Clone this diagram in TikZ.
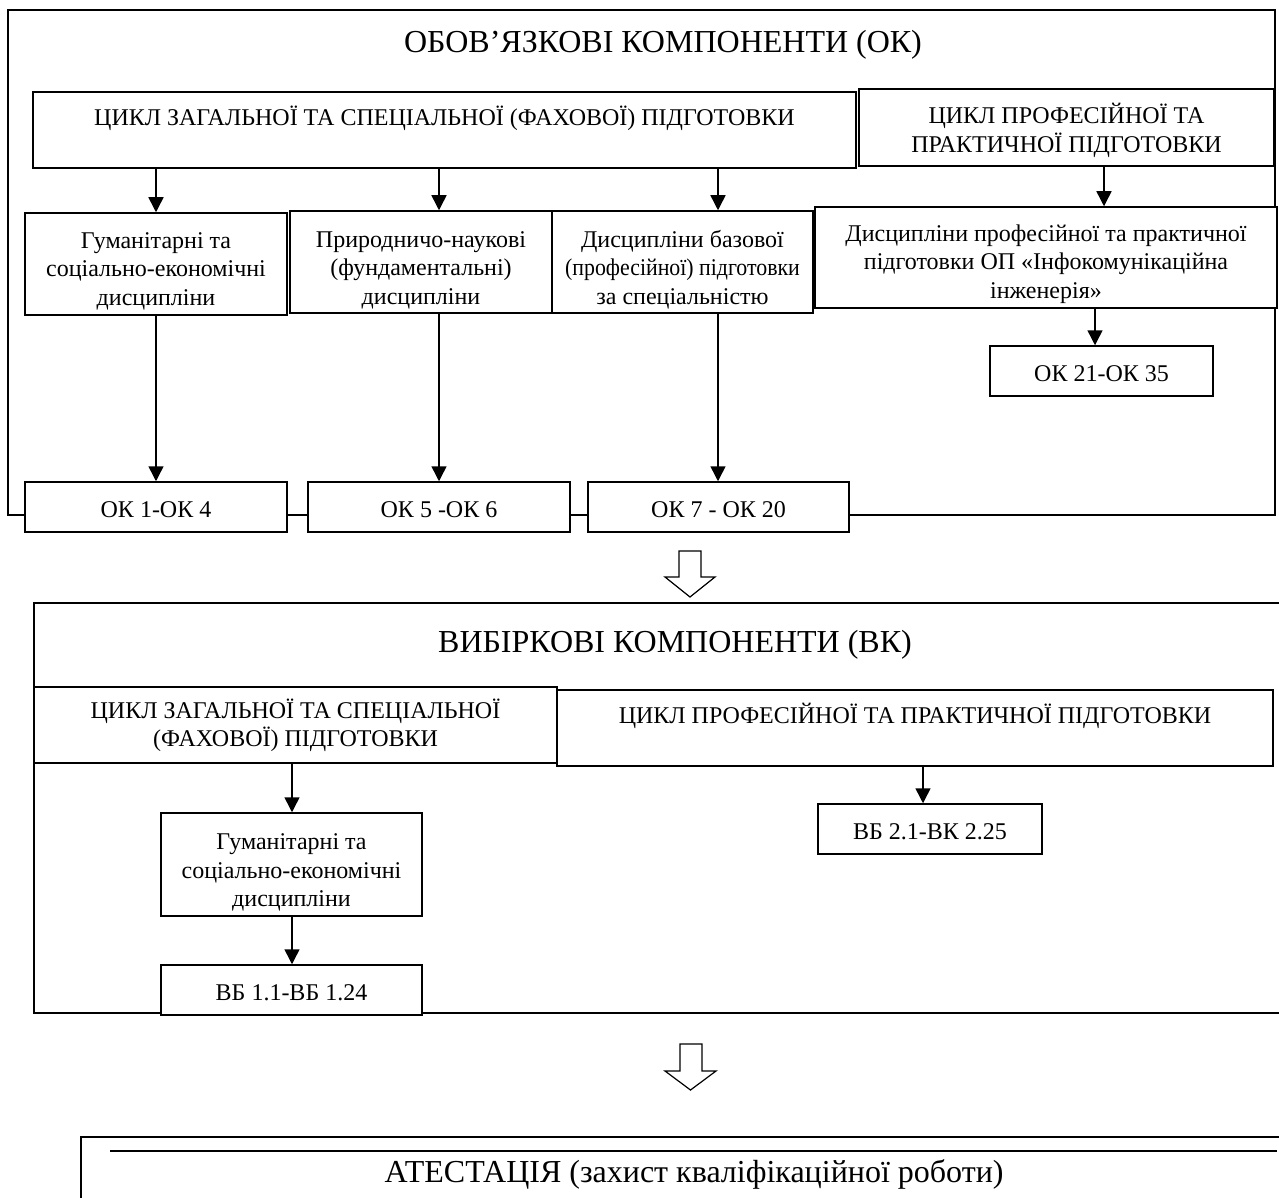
\documentclass[tikz,border=0pt]{standalone}
\usepackage{fontspec}
\usepackage{graphicx}
\setmainfont{Liberation Serif}
\usetikzlibrary{arrows.meta}
\newcommand{\mybox}[7][]{%
  \pgfmathsetmacro{\myboxW}{(#5-#3)*0.5}%
  \pgfmathsetmacro{\myboxH}{(#6-#4)*0.5}%
  \node[box,minimum width=\myboxW pt,minimum height=\myboxH pt,#1] (#2) at ({(#3+#5)/2},{(#4+#6)/2}) {#7};}
\newcommand{\txtlow}[1]{\rule{0pt}{#1}}
\begin{document}
\begin{tikzpicture}[x=0.5pt,y=-0.5pt,
  box/.style={draw,line width=0.75pt,fill=white,align=center,inner sep=0pt,
    font=\fontsize{12}{14.2}\selectfont,
    execute at begin node={\rule{0pt}{11pt}}},
  framebox/.style={box,line width=0.8pt,fill=none},
  arr/.style={-{Triangle[length=7.5pt,width=7.5pt]},line width=0.75pt},
  hollow/.style={draw,line width=0.6pt,fill=white,line join=miter},
  title/.style={font=\fontsize{16}{19}\selectfont,inner sep=0pt}]
\clip (0,0) rectangle (1279,1198);
\fill[white] (0,0) rectangle (1279,1198);
% frames
\mybox[framebox]{frA}{8}{10}{1275}{515}{}
\mybox[framebox]{frB}{34}{603}{1310}{1013}{}
\mybox[framebox]{frC}{81}{1137}{1310}{1260}{}
\node[title] (tA) at (663,45) {ОБОВ’ЯЗКОВІ КОМПОНЕНТИ (ОК)};
\node[title] (tB) at (675,645) {ВИБІРКОВІ КОМПОНЕНТИ (ВК)};
\coordinate (lC1) at (110,1151);
\coordinate (lC2) at (1277,1151);
\draw[line width=0.9pt] (lC1) -- (lC2);
\node[title] (tC) at (694,1174) {АТЕСТАЦІЯ (захист кваліфікаційної роботи)};
% boxes of OK
\mybox{top1}{33}{92}{856}{168}{ЦИКЛ ЗАГАЛЬНОЇ ТА СПЕЦІАЛЬНОЇ (ФАХОВОЇ) ПІДГОТОВКИ\\ ~}
\mybox{cp1}{859}{89}{1274}{166}{\txtlow{13pt}ЦИКЛ ПРОФЕСІЙНОЇ ТА\\ПРАКТИЧНОЇ ПІДГОТОВКИ}
\mybox{g1}{25}{213}{287}{315}{\txtlow{15pt}Гуманітарні та\\соціально-економічні\\дисципліни}
\mybox{pn}{290}{211}{552}{313}{\txtlow{16pt}Природничо-наукові\\(фундаментальні)\\дисципліни}
\mybox{db}{552}{211}{813}{313}{\txtlow{16pt}Дисципліни базової\\\scalebox{0.91}[1]{(професійної) підготовки}\\за спеціальністю}
\mybox{dp}{815}{207}{1277}{308}{\txtlow{15pt}Дисципліни професійної та практичної\\підготовки ОП «Інфокомунікаційна\\інженерія»}
\mybox{ok21}{990}{346}{1213}{396}{ОК 21-ОК 35}
\mybox{ok1}{25}{482}{287}{532}{ОК 1-ОК 4}
\mybox{ok5}{308}{482}{570}{532}{ОК 5 -ОК 6}
\mybox{ok7}{588}{482}{849}{532}{ОК 7 - ОК 20}
% boxes of VK
\mybox{cz2}{34}{687}{557}{763}{ЦИКЛ ЗАГАЛЬНОЇ ТА СПЕЦІАЛЬНОЇ\\(ФАХОВОЇ) ПІДГОТОВКИ}
\mybox{cp2}{557}{690}{1273}{766}{ЦИКЛ ПРОФЕСІЙНОЇ ТА ПРАКТИЧНОЇ ПІДГОТОВКИ\\ ~}
\mybox{g2}{161}{813}{422}{916}{\txtlow{16pt}Гуманітарні та\\соціально-економічні\\дисципліни}
\mybox{vb1}{161}{965}{422}{1015}{ВБ 1.1-ВБ 1.24}
\mybox{vb2}{818}{804}{1042}{854}{ВБ 2.1-ВК 2.25}
% arrows
\coordinate (ax1) at (1104,0);
\coordinate (ax2) at (1095,0);
\coordinate (ax3) at (292,0);
\coordinate (ax4) at (923,0);
\coordinate (ax5) at (718,0);
\draw[arr] (top1.south -| g1) -- (g1.north);
\draw[arr] (g1.south) -- (ok1.north);
\draw[arr] (top1.south -| ok5) -- (pn.north -| ok5);
\draw[arr] (pn.south -| ok5) -- (ok5.north);
\draw[arr] (top1.south -| ax5) -- (db.north -| ax5);
\draw[arr] (db.south -| ax5) -- (ok7.north -| ax5);
\draw[arr] (cp1.south -| ax1) -- (dp.north -| ax1);
\draw[arr] (dp.south -| ax2) -- (ok21.north -| ax2);
\draw[arr] (cz2.south -| ax3) -- (g2.north -| ax3);
\draw[arr] (g2.south -| ax3) -- (vb1.north -| ax3);
\draw[arr] (cp2.south -| ax4) -- (vb2.north -| ax4);
% hollow arrows
\draw[hollow] (679,551) -- (701,551) -- (701,577) -- (715,577) -- (690,597) -- (665,577) -- (679,577) -- cycle;
\draw[hollow] (680,1044) -- (702,1044) -- (702,1071) -- (716,1071) -- (690.5,1090) -- (665,1071) -- (680,1071) -- cycle;
\end{tikzpicture}
\end{document}
